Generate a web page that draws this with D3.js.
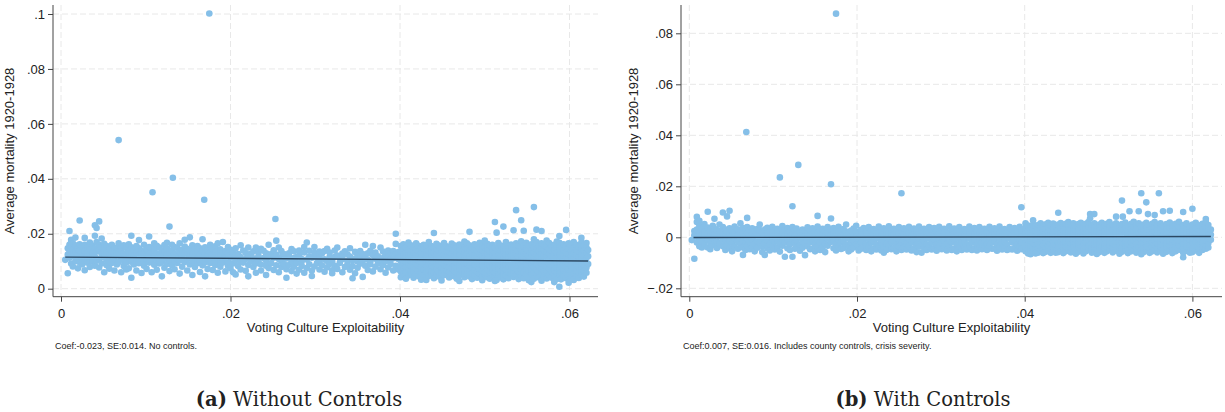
<!DOCTYPE html>
<html>
<head>
<meta charset="utf-8">
<script src="https://cdn.jsdelivr.net/npm/d3@7"></script>
<style>
  body { margin: 0; background: #fff; }
  .tick text { font-family: "Liberation Sans", Arial, sans-serif; font-size: 13px; fill: #222; }
  .tick line { stroke: #444; }
  .axisText { font-family: "Liberation Sans", Arial, sans-serif; font-size: 13px; fill: #222; }
  .noteText { font-family: "Liberation Sans", Arial, sans-serif; font-size: 9px; fill: #222; }
  .caption { font-family: "DejaVu Serif", "Liberation Serif", serif; font-size: 19.5px; fill: #222; }
</style>
</head>
<body>
<div class="chart"></div>
<script>
// Two scatter plots: mortality vs voting culture exploitability
var svgWidth = 1225;
var svgHeight = 412;

// tick values shared by both panels
var xTicks = [0, 0.02, 0.04, 0.06];
var yTicksA = [0, 0.02, 0.04, 0.06, 0.08, 0.1];
var yTicksB = [-0.02, 0, 0.02, 0.04, 0.06, 0.08];

// Panel (a) points. Units of 0.0001.
// Each row: [x, y, y, ...] = several counties sharing about the same x.
var pointsA = [
  [5,105],[8,56,124,147],[10,210,160,137,113],[12,178,92,128,152,170],[14,81,118,143,165],
  [17,100,134,158,186],[20,74,112,146,124],[22,248,96,139,162],[25,88,121,154,108],[28,67,103,136,160,185],
  [31,95,127,149,115],[34,79,110,142,168],[37,99,131,157,122],[40,231,84,116,147,193],[42,221,102,135,170],
  [45,245,77,108,140,160],[48,92,125,152,183],[51,60,114,139,163],[54,85,104,130,155],[57,73,119,146,100],
  [60,94,126,160,137],[63,66,108,143,115],[66,88,121,150,133],[68,541,97,130,165],[71,60,112,139,152],
  [74,83,104,127,158],[77,95,120,148,70],[80,74,109,136,162],[83,40,98,126,151,193],[86,88,116,142,105],
  [89,66,102,131,155],[92,93,121,147,177],[95,57,110,138,125],[98,84,99,129,160],[101,72,116,144,107],
  [104,95,124,152,190],[107,60,103,134,148],[108,351],[110,87,118,141,165],[113,69,107,129,156],
  [116,92,122,150,100],[119,45,97,117,139],[122,76,110,134,159],[125,90,125,147,167],[128,226,64,103,130],
  [131,85,115,140,160],[132,404],[134,71,100,127,152],[137,94,120,148,108],[140,55,103,135,165],
  [143,80,117,142,124],[146,97,129,153,178],[149,66,108,131,145],[152,88,113,139,187],[155,50,102,126,158],
  [158,79,118,145,96],[161,93,109,136,155],[164,61,123,147,101],[167,85,112,138,180],[169,324],
  [170,45,96,128,151],[173,72,119,141,106],[175,1002],[176,94,104,133,160],[179,68,115,145,123],[182,86,100,130,154],
  [185,58,111,139,165],[188,80,122,143,99],[191,95,107,134,170],[194,63,118,137,112],[197,84,101,128,152],
  [200,74,113,142],[203,92,131,60],[206,104,120,147,52],[209,83,126],[212,70,98,158,115],
  [215,95,139],[218,65,108,130],[221,86,117,150,45],[224,100,127],[227,79,111,136],
  [230,58,92,150],[233,119,134,102],[236,88,66,145],[239,112,138],[242,84,104,50,129],
  [245,75,116,160],[248,93,126],[251,68,113,140],[253,254],[254,85,124,175],
  [257,60,108,150],[260,79,115,137,100],[263,90,126],[266,71,110,40],[269,86,118,129],
  [272,64,144,99],[275,80,112,136],[278,94,115,55],[281,69,121,139],[284,83,100,108],
  [287,58,132,152],[290,75,106,168],[293,89,117,138],[296,66,113,46],[299,81,131,152],
  [302,93,114],[305,70,103,135,119],[308,85,129],[311,62,107,137],[314,78,101,145],
  [317,90,116,132],[320,67,99,56],[323,83,116,139],[326,72,121,150],[329,94,111],
  [332,60,107,128,118],[335,79,136],[338,88,102,125],[341,69,117,147],[344,82,104,38],
  [347,56,110,134],[350,76,99,124],[353,91,115,137],[356,43,103,126],[359,84,112,160],
  [362,68,106,129],[365,89,138,100],[368,63,123,155],[371,80,109,132],[374,93,118],
  [377,71,104,150],[380,86,112,135],[383,58,100,124],[386,77,115,139],[389,90,106,130],
  [392,66,111,137],[395,200,83,126,163],[398,70,117,133,108],
  [401,42,63,82,100,118,137,155],[404,55,74,93,110,127,146,162],[407,36,60,79,97,114,131,150],
  [410,48,70,88,105,122,141,168],[413,57,66,84,102,120,136,158],[416,40,62,80,99,116,133,152],
  [419,52,73,91,107,125,144,165],[422,45,64,86,103,119,138,156],[425,33,59,77,96,113,130,149],
  [428,50,71,90,108,126,145,160],[431,32,62,81,98,115,134,153],[434,46,68,87,104,121,140,170],
  [437,55,65,83,101,118,137,155],[440,38,60,79,97,114,132,150,203],[443,51,72,92,109,127,146,163],
  [446,44,63,85,102,120,138,157],[449,30,58,78,95,112,131,148],[452,49,70,89,106,124,143,166],
  [455,56,66,83,100,117,136,154],[458,41,61,80,98,116,134,151],[461,53,74,93,110,128,147,164],
  [464,45,64,86,103,121,139,158],[467,36,59,77,96,113,130,150],[470,28,50,71,90,107,125,144,161],
  [473,58,66,84,101,119,137,156],[476,42,62,81,99,115,133,152,172],[479,52,73,92,109,126,146,165],
  [482,207,44,64,85,102,120,139,158],[485,35,57,78,95,112,131,149],[488,49,70,89,106,124,143,162],
  [491,40,61,83,100,117,136,155],[494,55,72,90,108,125,144,167],[497,31,46,65,86,103,121,140,159],
  [500,53,60,79,97,114,132,151,175],[503,42,71,92,110,127,145,163],[506,36,63,84,101,118,137,156],
  [509,50,68,87,104,122,141,160],[512,28,45,59,78,96,113,131,150,243],[514,32,204],
  [516,52,73,91,107,125,144,166],[519,41,64,85,102,120,138,157],[522,226,34,58,80,98,116,134,153],
  [525,48,70,89,106,123,142,170],[528,38,61,82,100,117,136,155],[531,55,66,86,103,121,139,161],
  [534,213,43,59,78,96,113,132,152],[537,286,50,72,91,108,126,145,165],[540,35,63,84,101,119,137,157],
  [543,249,46,68,87,104,122,141,173],[546,211,38,60,80,98,115,133,153],[549,53,73,92,109,127,146,167],
  [552,31,42,64,85,102,120,139,158],[555,24,55,69,88,105,123,142,162],[558,297,36,58,79,97,114,132,151,180],
  [561,215,48,71,90,107,125,144,170],[564,41,62,83,100,118,137,156],[567,210,29,55,74,93,110,127,146,165],
  [570,44,65,86,103,121,140,159],[573,37,60,80,98,116,134,154,175],[576,51,72,91,108,126,145,166],
  [579,40,63,84,101,119,138,157],[582,24,47,68,88,105,122,141,160],[585,35,59,78,96,114,132,152,172],
  [588,192,7,52,73,92,109,127,146,167],[590,34,61,83,100,118,136,155],[593,46,67,87,104,121,140,162],
  [596,214,38,58,79,97,115,133,153],[599,22,50,72,91,108,126,145,165],[602,41,63,84,101,119,137,158],
  [605,32,55,75,94,111,129,148,170],[608,47,68,88,105,123,142,160],[611,39,60,80,98,116,135,152],
  [614,185,53,73,92,109,127,146,168],[617,44,64,86,103,120,139,157],[620,166,58,77,95,113,131,150],
  [622,141,90,118]
];

// Panel (b) residualised points, same units.
var pointsB = [
  [3,-11],[6,-84,8,25],[9,80,-20,2,30,60],[12,-35,-8,18,45,65],[15,-15,10,35,-40],
  [18,-28,0,22,52],[22,100,-40,-10,15,38],[25,-20,5,28,-47],[28,-32,-5,20,45],[30,73,-15,10,33],
  [33,-42,-18,8,28],[36,-25,3,24,50],[40,-35,-8,15,40,97],[43,-20,6,30,-50],[45,82,-30,-2,22],
  [48,-43,-14,12,35,104],[51,-22,5,26,-55],[54,-36,-6,18,42],[58,-17,9,31,-45],[61,-28,-1,21,55],
  [64,-69,-40,-12,14,36],[67,-24,4,27,-50],[68,413],[69,76,-33,-7,17,40],[72,-19,8,29,-47],
  [75,-38,-10,13,35],[78,-26,2,24,-55],[81,-41,-15,11,32],[84,-21,6,28,50],[87,-35,-4,19,-58],
  [90,-69,-23,9,30],[93,-44,-12,15,37],[96,-29,1,22,-52],[99,-37,-9,17,41],[102,-18,7,27,-48],
  [105,-40,-14,12,33],[108,235,-25,3,25,-56],[111,-33,-6,19,44],[114,-76,-20,8,30],[117,-43,-11,14,36],
  [120,-27,2,23,-50],[123,122,-76,-8,18,40],[126,-22,5,28,-45],[128,-39,-13,11,34],[130,284],
  [132,-30,0,21,-53],[135,-41,-16,9,30],[138,-70,-24,4,26],[141,-35,-7,16,39],[144,-19,8,29,-47],
  [147,-44,-12,13,35],[150,-28,1,22,-55],[153,84,-36,-9,18,42],[156,-21,6,27,-50],[159,-40,-14,10,33],
  [162,-25,3,24,-58],[165,-33,-5,19,40],[169,208,74,-18,9,30],[172,-43,-12,14,36],[175,877,-27,0,21,-52],
  [178,-37,-8,17,41],[181,-20,7,28,-46],[184,-42,-15,11,32],[187,-29,2,23,50],[190,-35,-6,18,-55],
  [193,-22,5,26,-48],[196,-40,-13,12,34],[199,-26,1,22,45],[202,-33,-7,16,-52],[205,-19,8,29,-45],
  [208,-42,-11,14,36],[211,-28,-2,21,-50],[214,-36,-8,17,40],[217,-21,6,27,-55],[220,-44,-15,10,32],
  [223,-27,3,24,-48],[226,-34,-5,19,42],[229,-20,8,28,-52],[232,-60,-38,-12,13,35],[235,-25,1,22,-50],
  [238,-33,-7,18,43],[241,-19,9,30,-47],[244,-42,-14,11,33],[247,-28,2,23,-55],[250,-36,-9,16,40],
  [253,173,-21,6,27,-50],[256,-40,-13,12,35],[259,-26,0,21,-48],[262,-34,-6,17,41],[265,-20,7,28,-52],
  [268,-43,-12,13,34],[271,-58,-29,3,24],[274,-37,-8,18,42],[277,-60,-22,5,27],[280,-41,-15,10,33],
  [283,-27,1,22,-50],[286,-35,-5,19,40],[289,-20,8,29,-48],[292,-42,-11,14,36],[295,-28,2,23,-53],
  [298,-36,-9,17,41],[301,-21,6,26,-47],[304,-40,-14,11,33],[307,-26,0,21,-52],[310,-33,-7,16,43],
  [313,-19,9,30,-50],[316,-44,-13,12,34],[319,-29,3,24,-55],[322,-37,-8,18,40],[325,-50,-22,5,27],
  [328,-41,-15,10,32],[331,-27,1,22,-48],[334,-35,-5,19,42],[337,-50,-20,8,28],[340,-43,-12,14,36],
  [343,-28,2,23,-52],[346,-36,-9,17,40],[349,-21,6,26,-47],[352,-40,-14,11,33],[355,-26,0,21,-50],
  [358,-33,-7,16,41],[361,-19,9,30,-45],[364,-44,-13,12,35],[367,-29,3,24,-53],[370,-37,-8,18,42],
  [373,-22,5,27,-48],[376,-41,-15,10,32],[379,-27,1,22,-50],[382,-46,-5,19,40],[385,-20,8,29,-48],
  [388,-42,-11,14,36],[391,-28,2,23,-53],[394,-36,-9,17,41],[396,118,-21,6,26,-47],
  [401,-55,-37,-18,0,18,37,55],[404,-63,-45,-27,-9,9,27,46],[407,-50,-32,-14,4,22,40,-66],
  [410,67,-58,-40,-22,-4,14,32,50],[413,-46,-28,-10,8,26,44,-63],[416,-60,-42,-24,-6,12,30,48],
  [419,-53,-35,-17,1,19,37,55],[422,-48,-30,-12,6,24,42,-62],[425,-57,-39,-21,-3,15,33,51],
  [428,-51,-33,-15,3,21,39,57],[431,-61,-43,-25,-7,11,29,47],[434,-54,-36,-18,0,18,36,54],
  [437,-47,-29,-11,7,25,43,-60],[440,96,-58,-40,-22,-4,14,32,50],[443,-52,-34,-16,2,20,38,56],
  [446,-62,-44,-26,-8,10,28,46],[449,-55,-37,-19,-1,17,35,53],[452,-49,-31,-13,5,23,41,60],
  [455,-59,-41,-23,-5,13,31,49],[458,-53,-35,-17,1,19,37,55],[461,-46,-28,-10,8,26,44,-64],
  [464,-57,-39,-21,-3,15,33,52],[467,-51,-33,-15,3,21,39,57],[470,-63,-44,-26,-8,10,28,46],
  [473,-55,-37,-19,-1,17,35,53],[476,-48,-30,-12,6,24,42,60],[478,75,91],
  [480,-60,-42,-24,-6,12,30,48],[483,91,-54,-36,-18,0,18,36,55],[486,-47,-29,-11,7,25,43,-65],
  [489,-58,-40,-22,-4,14,32,50],[492,-52,-34,-16,2,20,38,57],[495,-61,-43,-25,-7,11,29,47],
  [498,-55,-37,-19,-1,17,35,53],[501,-49,-31,-13,5,23,41,60],[505,-59,-41,-23,-5,13,31,49],
  [509,81,-53,-35,-17,1,19,37,55],[513,-46,-28,-10,8,26,44,-64],[516,144,-57,-39,-21,-3,15,33,52],
  [517,81],[520,-51,-33,-15,3,21,39,58],[523,-62,-44,-26,-8,10,28,46],[525,102],
  [527,-55,-37,-19,-1,17,35,53],[530,-49,-31,-13,5,23,41,61],[533,-60,-42,-24,-6,12,30,48],
  [536,102,-54,-36,-18,0,18,36,55],[539,173,-47,-29,-11,7,25,43,-66],[542,-58,-40,-22,-4,14,32,50],
  [545,137,-52,-34,-16,2,20,38,57],[547,91],[549,-61,-43,-25,-7,11,29,47],
  [552,-55,-37,-19,-1,17,35,53],[555,87,-49,-31,-13,5,23,41,60],[558,-59,-41,-23,-5,13,31,49],
  [560,173],[562,-53,-35,-17,1,19,37,55],[565,102,-46,-28,-10,8,26,44,-64],
  [569,-57,-39,-21,-3,15,33,52],[573,104,-51,-33,-15,3,21,39,58],[576,-62,-44,-26,-8,10,28,46],
  [580,-55,-37,-19,-1,17,35,53],[584,-49,-31,-13,5,23,41,61],[589,99,-78,-60,-42,-24,-6,12,30,48],
  [593,-54,-36,-18,0,18,36,55],[597,-47,-29,-11,7,25,43,-60],[600,112,-58,-40,-22,-4,14,32,50],
  [604,-52,-34,-16,2,20,38,57],[608,-61,-43,-25,-7,11,29,47],[612,-50,-37,-19,-1,17,35,53],
  [616,72,-45,-31,-13,5,23,41,60],[619,-40,-22,-4,14,32,48],[622,-10,10,30]
];

// fitted lines (x, y at both ends), units of 0.0001
var fitAx = [5, 622];
var fitAy = [115, 101];
var fitBx = [5, 622];
var fitBy = [-1, 3];

var notes = [
  "Coef:-0.023, SE:0.014. No controls.",
  "Coef:0.007, SE:0.016. Includes county controls, crisis severity."
];
var captions = [["(a)", " Without Controls"], ["(b)", " With Controls"]];

var svg = d3.select(".chart")
  .append("svg")
  .attr("width", svgWidth)
  .attr("height", svgHeight);

// Stata style tick labels: .02 instead of 0.02
function stataFmt(d) {
  if (d === 0) return "0";
  return d3.format(".2~f")(d).replace("0.", ".");
}

function unpack(rows) {
  var out = [];
  rows.forEach(function(r) {
    for (var i = 1; i < r.length; i++) {
      out.push({ x: r[0] / 10000, y: r[i] / 10000 });
    }
  });
  return out;
}

function drawPanel(p) {
  var g = svg.append("g");
  var data = unpack(p.points);

  var xScale = d3.scaleLinear().domain([0, 0.06]).range(p.xRange);
  var yScale = d3.scaleLinear().domain(p.yDomain).range(p.yRange);

  // gridlines
  g.selectAll(".hgrid")
    .data(p.yTicks)
    .enter()
    .append("line")
    .attr("x1", p.left)
    .attr("x2", p.right)
    .attr("y1", d => yScale(d))
    .attr("y2", d => yScale(d))
    .attr("stroke", "#e8e8e8")
    .attr("stroke-dasharray", "6,3");

  g.selectAll(".vgrid")
    .data(xTicks)
    .enter()
    .append("line")
    .attr("x1", d => xScale(d))
    .attr("x2", d => xScale(d))
    .attr("y1", p.top)
    .attr("y2", p.bottom)
    .attr("stroke", "#e8e8e8")
    .attr("stroke-dasharray", "6,3");

  // points
  g.selectAll("circle")
    .data(data)
    .enter()
    .append("circle")
    .attr("cx", d => xScale(d.x))
    .attr("cy", d => yScale(d.y))
    .attr("r", 3.3)
    .attr("fill", "#85bfe8");

  // fit line
  var line = d3.line()
    .x(d => xScale(d[0] / 10000))
    .y(d => yScale(d[1] / 10000));
  g.append("path")
    .datum(d3.zip(p.fitX, p.fitY))
    .attr("d", line)
    .attr("fill", "none")
    .attr("stroke", "#2b4863")
    .attr("stroke-width", 1.4);

  // axes
  var yAxis = d3.axisLeft(yScale).tickValues(p.yTicks).tickFormat(stataFmt).tickSize(5).tickPadding(3);
  var xAxis = d3.axisBottom(xScale).tickValues(xTicks).tickFormat(stataFmt).tickSize(5).tickPadding(7);

  g.append("g")
    .attr("transform", `translate(${p.left}, 0)`)
    .call(yAxis)
    .call(a => a.select(".domain").remove());

  g.append("g")
    .attr("transform", `translate(0, ${p.bottom})`)
    .call(xAxis)
    .call(a => a.select(".domain").remove());

  g.append("line")
    .attr("x1", p.left).attr("x2", p.left)
    .attr("y1", p.top).attr("y2", p.bottom)
    .attr("stroke", "#444");
  g.append("line")
    .attr("x1", p.left).attr("x2", p.right)
    .attr("y1", p.bottom).attr("y2", p.bottom)
    .attr("stroke", "#444");

  // axis titles
  g.append("text")
    .attr("class", "axisText")
    .attr("transform", `translate(${p.yTitleX}, 151) rotate(-90)`)
    .attr("text-anchor", "middle")
    .text("Average mortality 1920-1928");

  g.append("text")
    .attr("class", "axisText")
    .attr("x", (p.left + p.right) / 2)
    .attr("y", 331.5)
    .attr("text-anchor", "middle")
    .text("Voting Culture Exploitability");

  g.append("text")
    .attr("class", "noteText")
    .attr("x", p.left + 2)
    .attr("y", 348.5)
    .text(p.note);

  var cap = g.append("text")
    .attr("class", "caption")
    .attr("x", p.captionX)
    .attr("y", 406)
    .attr("text-anchor", "middle");
  cap.append("tspan").attr("font-weight", "bold").text(p.caption[0]);
  cap.append("tspan").text(p.caption[1]);
}

drawPanel({
  points: pointsA, fitX: fitAx, fitY: fitAy, yTicks: yTicksA,
  xRange: [61, 569.5], yDomain: [0, 0.1], yRange: [288.7, 14],
  left: 53, right: 598, top: 5, bottom: 296.7, yTitleX: 14,
  note: notes[0], caption: captions[0], captionX: 299
});

drawPanel({
  points: pointsB, fitX: fitBx, fitY: fitBy, yTicks: yTicksB,
  xRange: [689.3, 1192.4], yDomain: [-0.02, 0.08], yRange: [288.3, 33.3],
  left: 681, right: 1222, top: 5, bottom: 296.7, yTitleX: 638,
  note: notes[1], caption: captions[1], captionX: 923
});
</script>
</body>
</html>
